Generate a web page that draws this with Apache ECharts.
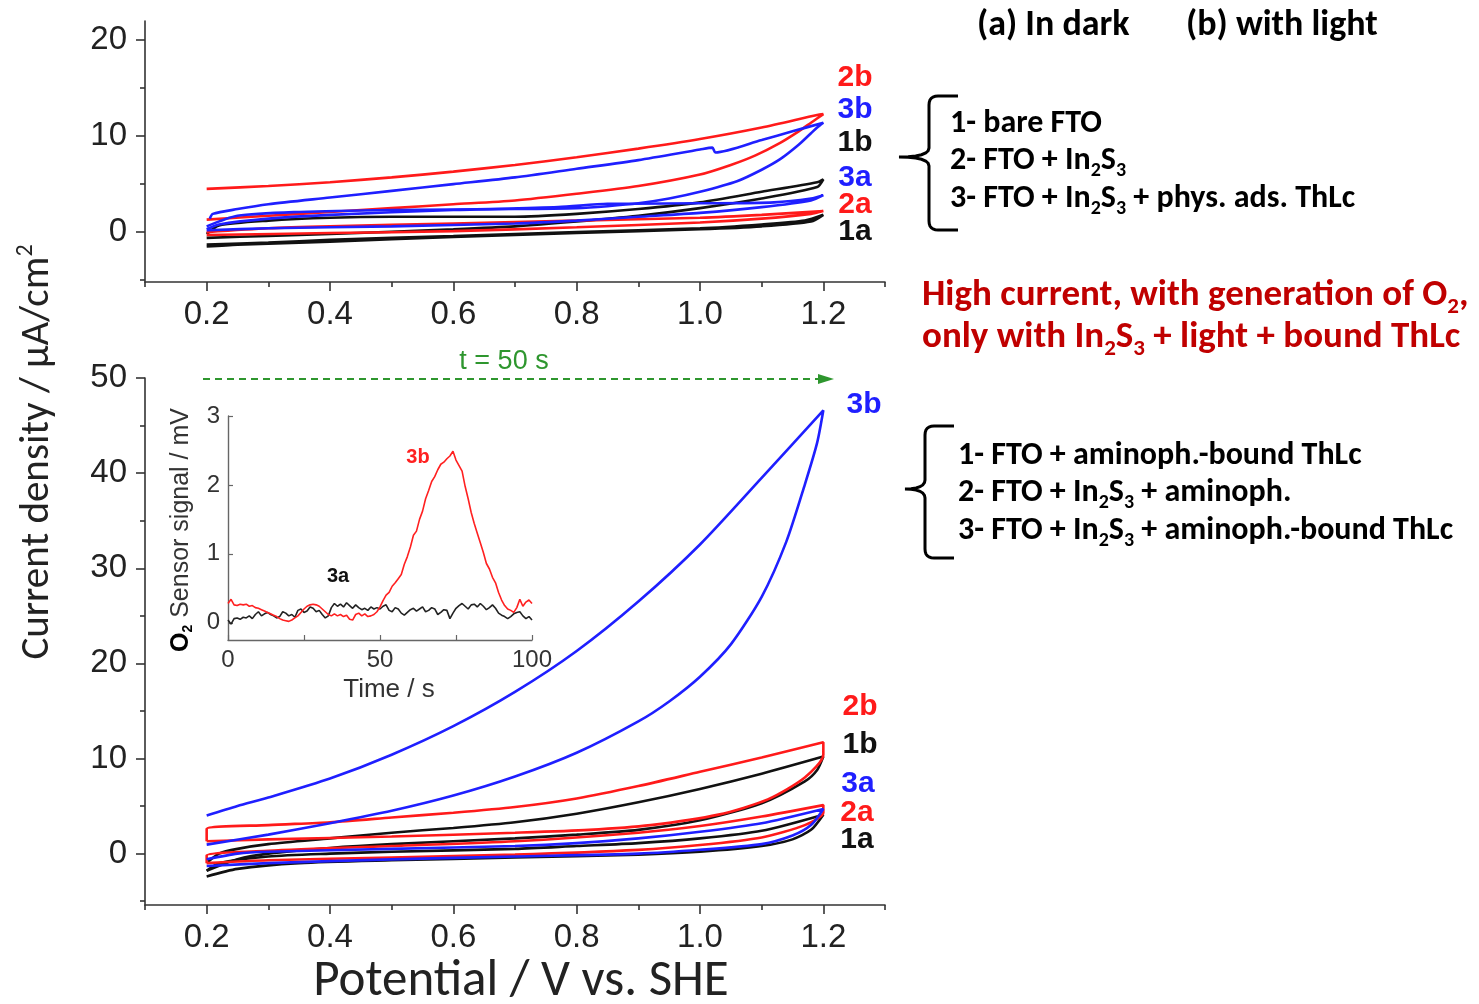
<!DOCTYPE html>
<html>
<head>
<meta charset="utf-8">
<script src="https://cdn.jsdelivr.net/npm/echarts@6/dist/echarts.min.js"></script>
<style>
  html, body { margin: 0; padding: 0; background: #fff; }
  #chart { width: 1479px; height: 1004px; }
</style>
</head>
<body>
<div id="chart"></div>
<script>
// ---- Tick values ----
const potentialMajor = [0.2, 0.4, 0.6, 0.8, 1.0, 1.2];
const potentialMinor = [0.1, 0.3, 0.5, 0.7, 0.9, 1.1, 1.3];
const topCurrentMajor = [0, 10, 20];
const topCurrentMinor = [-5, 5, 15];
const bottomCurrentMajor = [0, 10, 20, 30, 40, 50];
const bottomCurrentMinor = [-5, 5, 15, 25, 35, 45];
const insetTimeMajor = [0, 50, 100];
const insetTimeMinor = [25, 75];
const insetSignalMajor = [0, 1, 2, 3];

// ---- Cyclic voltammograms, FTO / In2S3 / physically adsorbed ThLc [V, uA/cm2] ----
const cvPhys1a = [[0.2,-1.3],[0.3,-1.1],[0.4,-0.8],[0.6,-0.4],[0.8,0.0],[1.0,0.4],[1.1,0.8],[1.17,1.2],[1.2,1.8],[1.18,1.1],[1.1,0.6],[1.0,0.3],[0.8,-0.1],[0.6,-0.5],[0.4,-1.0],[0.25,-1.3],[0.2,-1.5]];
const cvPhys2a = [[0.2,0.0],[0.3,0.4],[0.4,0.6],[0.6,0.9],[0.8,1.2],[1.0,1.5],[1.1,1.8],[1.2,2.2],[1.18,1.9],[1.1,1.4],[1.0,1.0],[0.8,0.5],[0.6,0.1],[0.4,-0.1],[0.2,-0.3]];
const cvPhys3a = [[0.2,0.3],[0.22,0.8],[0.3,1.4],[0.4,1.8],[0.6,2.3],[0.77,2.6],[0.85,2.95],[1.0,3.0],[1.12,3.1],[1.18,3.5],[1.2,3.85],[1.18,3.3],[1.1,2.6],[1.0,2.0],[0.9,1.6],[0.8,1.2],[0.7,0.9],[0.5,0.6],[0.3,0.4],[0.2,0.2]];
const cvPhys1b = [[0.2,-0.2],[0.22,0.7],[0.3,1.2],[0.4,1.5],[0.5,1.6],[0.6,1.6],[0.7,1.6],[0.8,1.9],[0.9,2.4],[1.0,3.1],[1.1,4.2],[1.19,5.2],[1.2,5.5],[1.19,4.7],[1.1,3.5],[1.0,2.5],[0.9,1.7],[0.8,1.1],[0.7,0.6],[0.6,0.3],[0.4,-0.2],[0.3,-0.4],[0.2,-0.6]];
const cvPhys2b = [[0.2,4.5],[0.3,4.8],[0.4,5.2],[0.5,5.7],[0.6,6.3],[0.7,7.0],[0.8,7.8],[0.9,8.7],[1.0,9.7],[1.1,10.9],[1.19,12.2],[1.2,12.3],[1.18,11.4],[1.16,10.5],[1.13,9.3],[1.09,8.0],[1.05,7.0],[1.0,6.0],[0.9,4.8],[0.8,4.0],[0.7,3.3],[0.6,2.9],[0.5,2.5],[0.4,2.1],[0.3,1.7],[0.2,1.3]];
const cvPhys3b = [[0.205,1.4],[0.21,1.9],[0.25,2.4],[0.3,2.9],[0.4,3.6],[0.5,4.3],[0.6,5.0],[0.7,5.7],[0.8,6.6],[0.9,7.5],[1.0,8.6],[1.02,8.8],[1.025,8.3],[1.1,9.6],[1.15,10.5],[1.2,11.4],[1.19,10.9],[1.18,10.3],[1.16,9.1],[1.13,7.6],[1.1,6.5],[1.06,5.3],[1.0,4.2],[0.95,3.5],[0.9,3.0],[0.85,2.7],[0.8,2.5],[0.7,2.4],[0.5,2.3],[0.35,2.1],[0.25,1.7],[0.2,0.6]];

// ---- Cyclic voltammograms, aminophenyl-bound ThLc series [V, uA/cm2] ----
const cvBound1a = [[0.2,-1.8],[0.22,-1.0],[0.3,-0.3],[0.4,0.0],[0.5,0.2],[0.7,0.5],[0.8,0.8],[0.9,1.1],[1.0,1.6],[1.1,2.4],[1.2,4.1],[1.18,2.5],[1.15,1.5],[1.1,0.8],[1.0,0.2],[0.9,-0.1],[0.7,-0.4],[0.5,-0.7],[0.35,-1.0],[0.25,-1.6],[0.2,-2.4]];
const cvBound2a = [[0.2,-1.0],[0.2,-0.2],[0.3,0.3],[0.5,0.8],[0.7,1.3],[0.9,2.2],[1.0,2.9],[1.1,3.9],[1.2,5.1],[1.2,4.3],[1.17,3.0],[1.1,1.7],[1.0,0.9],[0.9,0.4],[0.7,-0.1],[0.5,-0.4],[0.3,-0.7],[0.2,-1.0]];
const cvBound3a = [[0.2,-0.6],[0.25,0.0],[0.3,0.2],[0.5,0.5],[0.7,0.8],[0.8,1.1],[0.9,1.6],[1.0,2.3],[1.1,3.2],[1.2,4.7],[1.18,3.0],[1.15,1.9],[1.1,1.0],[1.0,0.4],[0.9,0.0],[0.7,-0.3],[0.5,-0.6],[0.3,-1.0],[0.2,-1.3]];
const cvBound1b = [[0.2,-1.0],[0.22,0.0],[0.25,0.5],[0.3,1.0],[0.4,1.6],[0.5,2.2],[0.6,2.7],[0.7,3.3],[0.8,4.2],[0.9,5.4],[1.0,6.8],[1.1,8.4],[1.2,10.2],[1.19,8.8],[1.17,7.6],[1.1,5.3],[1.0,3.5],[0.9,2.5],[0.8,2.0],[0.7,1.6],[0.5,1.0],[0.4,0.6],[0.3,0.0],[0.25,-0.6],[0.2,-1.8]];
const cvBound2b = [[0.2,1.3],[0.2,2.6],[0.3,3.0],[0.4,3.3],[0.5,3.8],[0.6,4.3],[0.7,4.9],[0.8,5.8],[0.9,7.1],[1.0,8.6],[1.1,10.1],[1.2,11.7],[1.2,10.4],[1.17,8.0],[1.11,5.7],[1.03,4.1],[0.92,3.0],[0.82,2.5],[0.7,2.2],[0.5,1.8],[0.3,1.5],[0.2,1.3]];
const cvBound3b = [[0.2,4.0],[0.25,5.0],[0.3,5.9],[0.4,7.9],[0.5,10.4],[0.6,13.4],[0.7,17.0],[0.8,21.3],[0.9,26.5],[1.0,32.5],[1.1,39.5],[1.2,46.6],[1.19,43.2],[1.17,38.8],[1.14,32.8],[1.1,27.0],[1.05,22.0],[1.0,18.6],[0.95,16.0],[0.9,13.9],[0.8,10.6],[0.7,8.1],[0.6,6.1],[0.5,4.5],[0.4,3.2],[0.3,2.0],[0.2,0.95]];

// ---- O2 sensor signal, one sample per second from t = 0 s [mV] ----
const o2Signal3b = [0.28,0.34,0.26,0.25,0.27,0.26,0.27,0.24,0.25,0.22,0.21,0.19,0.17,0.15,0.13,0.11,0.09,0.06,0.04,0.03,
  0.02,0.04,0.07,0.10,0.15,0.20,0.24,0.26,0.27,0.26,0.24,0.20,0.16,0.12,0.10,0.13,0.10,0.12,0.09,0.11,
  0.05,0.04,0.12,0.14,0.10,0.13,0.09,0.10,0.12,0.16,0.23,0.32,0.40,0.44,0.53,0.58,0.64,0.70,0.85,0.96,
  1.10,1.27,1.33,1.50,1.62,1.80,1.92,2.05,2.12,2.22,2.30,2.33,2.38,2.42,2.49,2.36,2.28,2.20,1.98,1.80,
  1.60,1.44,1.30,1.16,1.02,0.86,0.78,0.66,0.58,0.44,0.33,0.25,0.20,0.18,0.15,0.22,0.34,0.24,0.30,0.33,0.28];
const o2Signal3a = [0.04,-0.02,0.06,0.07,0.05,0.08,0.07,0.10,0.06,0.12,0.16,0.10,0.13,0.15,0.12,0.10,0.07,0.09,0.16,0.14,
  0.10,0.12,0.08,0.18,0.20,0.15,0.17,0.23,0.21,0.16,0.18,0.12,0.07,0.10,0.22,0.28,0.24,0.27,0.23,0.29,
  0.25,0.21,0.26,0.22,0.19,0.21,0.18,0.23,0.20,0.22,0.20,0.24,0.26,0.18,0.16,0.22,0.20,0.14,0.11,0.15,
  0.19,0.21,0.17,0.20,0.23,0.16,0.18,0.22,0.20,0.12,0.15,0.19,0.18,0.06,0.14,0.21,0.25,0.28,0.24,0.20,
  0.26,0.27,0.23,0.28,0.24,0.19,0.22,0.26,0.21,0.14,0.11,0.09,0.06,0.09,0.13,0.15,0.16,0.10,0.06,0.09,0.04];

const RED = '#ff1a1a', BLUE = '#1f1fff', BLACK = '#111111', DARKRED = '#c00000', GREEN = '#2e962e';
const TICK_FONT = '"Liberation Sans", Arial, sans-serif';
const TEXT_FONT = 'Carlito, Lato, "Open Sans", sans-serif';

function majorAxis(gridIndex, min, max, major, position) {
  return {
    type: 'value', gridIndex, min, max, position,
    axisLine: { show: true, onZero: false, lineStyle: { color: '#333', width: 1.6 } },
    axisTick: { show: true, customValues: major, length: 9, lineStyle: { color: '#333', width: 1.6 } },
    axisLabel: { show: true, customValues: major, color: '#222', fontFamily: TICK_FONT, fontSize: 33,
      margin: position === 'bottom' ? 16 : 18,
      formatter: v => (position === 'bottom' ? v.toFixed(1) : String(v)) },
    splitLine: { show: false }
  };
}
function minorAxis(gridIndex, min, max, minor, position) {
  return {
    type: 'value', gridIndex, min, max, position,
    axisLine: { show: false, onZero: false },
    axisTick: { show: true, customValues: minor, length: 5, lineStyle: { color: '#333', width: 1.6 } },
    axisLabel: { show: false },
    splitLine: { show: false }
  };
}

function cv(data, color, x, y) {
  return {
    type: 'line', data, xAxisIndex: x, yAxisIndex: y,
    showSymbol: false, smooth: 0.25, silent: true,
    lineStyle: { color, width: 2.6 }
  };
}
function o2(values, color) {
  return {
    type: 'line', data: values.map((v, i) => [i, v]), xAxisIndex: 4, yAxisIndex: 4,
    showSymbol: false, silent: true, lineStyle: { color, width: 1.6 }
  };
}

function label(text, x, y, color, size) {
  return { type: 'text', x, y, silent: true,
    style: { text, fill: color, font: 'bold ' + (size || 30) + 'px ' + TICK_FONT,
      align: 'center', verticalAlign: 'middle', textAlign: 'center', textVerticalAlign: 'middle' } };
}
function richLine(text, x, y, color, size) {
  return { type: 'text', x, y, silent: true,
    style: {
      text, fill: color, fontFamily: TEXT_FONT, fontWeight: 'bold', fontSize: size, lineHeight: size + 8,
      align: 'left', verticalAlign: 'middle', textAlign: 'left', textVerticalAlign: 'middle',
      rich: {
        s: { fontFamily: TEXT_FONT, fontWeight: 'bold', fontSize: Math.round(size * 0.62), lineHeight: Math.round(size * 0.62), verticalAlign: 'bottom', fill: color }
      }
    } };
}
// Curly brace opening to the right, drawn as a polyline with rounded corners
function brace(xEnd, xSpine, xTip, yTop, yMid, yBot) {
  const r = 9, pts = [];
  const quad = (p0, c, p1) => {
    for (let i = 1; i <= 6; i++) {
      const t = i / 6, u = 1 - t;
      pts.push([u * u * p0[0] + 2 * u * t * c[0] + t * t * p1[0], u * u * p0[1] + 2 * u * t * c[1] + t * t * p1[1]]);
    }
  };
  pts.push([xEnd, yTop], [xSpine + r, yTop]);
  quad([xSpine + r, yTop], [xSpine, yTop], [xSpine, yTop + r]);
  pts.push([xSpine, yMid - r]);
  quad([xSpine, yMid - r], [xSpine, yMid], [xTip, yMid]);
  quad([xTip, yMid], [xSpine, yMid], [xSpine, yMid + r]);
  pts.push([xSpine, yBot - r]);
  quad([xSpine, yBot - r], [xSpine, yBot], [xSpine + r, yBot]);
  pts.push([xEnd, yBot]);
  return { type: 'polyline', silent: true, shape: { points: pts }, style: { stroke: '#000', lineWidth: 3, fill: null } };
}

const chart = echarts.init(document.getElementById('chart'), null, { renderer: 'canvas' });

const option = {
  backgroundColor: '#ffffff',
  animation: false,
  grid: [
    { left: 145, top: 21, width: 740, height: 261 },
    { left: 145, top: 378, width: 740, height: 527 },
    { left: 228, top: 416, width: 304, height: 224 }
  ],
  xAxis: [
    majorAxis(0, 0.1, 1.3, potentialMajor, 'bottom'),
    minorAxis(0, 0.1, 1.3, potentialMinor, 'bottom'),
    majorAxis(1, 0.1, 1.3, potentialMajor, 'bottom'),
    minorAxis(1, 0.1, 1.3, potentialMinor, 'bottom'),
    {
      type: 'value', gridIndex: 2, min: 0, max: 100, position: 'bottom',
      axisLine: { show: true, onZero: false, lineStyle: { color: '#666', width: 1.4 } },
      axisTick: { show: true, inside: true, customValues: insetTimeMajor.concat(insetTimeMinor), length: 5, lineStyle: { color: '#666', width: 1.2 } },
      axisLabel: { customValues: insetTimeMajor, color: '#333', fontFamily: TICK_FONT, fontSize: 24, margin: 8 },
      splitLine: { show: false }
    }
  ],
  yAxis: [
    majorAxis(0, -5.2, 22, topCurrentMajor, 'left'),
    minorAxis(0, -5.2, 22, topCurrentMinor, 'left'),
    majorAxis(1, -5.4, 50, bottomCurrentMajor, 'left'),
    minorAxis(1, -5.4, 50, bottomCurrentMinor, 'left'),
    {
      type: 'value', gridIndex: 2, min: -0.25, max: 3, position: 'left',
      axisLine: { show: true, onZero: false, lineStyle: { color: '#666', width: 1.4 } },
      axisTick: { show: true, inside: true, customValues: insetSignalMajor, length: 5, lineStyle: { color: '#666', width: 1.2 } },
      axisLabel: { customValues: insetSignalMajor, color: '#333', fontFamily: TICK_FONT, fontSize: 24, margin: 8 },
      splitLine: { show: false }
    }
  ],
  series: [
    cv(cvPhys1a, BLACK, 0, 0), cv(cvPhys1b, BLACK, 0, 0),
    cv(cvPhys2a, RED, 0, 0), cv(cvPhys2b, RED, 0, 0),
    cv(cvPhys3a, BLUE, 0, 0), cv(cvPhys3b, BLUE, 0, 0),
    cv(cvBound1a, BLACK, 2, 2), cv(cvBound1b, BLACK, 2, 2),
    cv(cvBound2a, RED, 2, 2), cv(cvBound2b, RED, 2, 2),
    cv(cvBound3a, BLUE, 2, 2), cv(cvBound3b, BLUE, 2, 2),
    o2(o2Signal3a, '#222222'), o2(o2Signal3b, '#ff2020')
  ],
  graphic: [
    // axis titles
    { type: 'text', x: 38, y: 452, rotation: Math.PI / 2, silent: true,
      style: { text: 'Current density / μA/cm{sup|2}', fill: '#222', fontFamily: TEXT_FONT, fontSize: 41, lineHeight: 48,
        align: 'center', verticalAlign: 'middle', textAlign: 'center', textVerticalAlign: 'middle',
        rich: { sup: { fontSize: 24, lineHeight: 24, verticalAlign: 'top', fill: '#222', fontFamily: TEXT_FONT } } } },
    { type: 'text', x: 521, y: 982, silent: true,
      style: { text: 'Potential / V vs. SHE', fill: '#222', fontFamily: TEXT_FONT, fontSize: 51,
        align: 'center', verticalAlign: 'middle', textAlign: 'center', textVerticalAlign: 'middle' } },
    { type: 'text', x: 181, y: 530, rotation: Math.PI / 2, silent: true,
      style: { text: '{o|O}{os|2}{t| Sensor signal / mV}', fontFamily: TICK_FONT, fontSize: 25, lineHeight: 28,
        align: 'center', verticalAlign: 'middle', textAlign: 'center', textVerticalAlign: 'middle',
        rich: {
          o: { fontWeight: 'bold', fill: '#000', fontSize: 25, fontFamily: TICK_FONT },
          os: { fontWeight: 'bold', fill: '#000', fontSize: 14, lineHeight: 14, verticalAlign: 'bottom', fontFamily: TICK_FONT },
          t: { fill: '#333', fontSize: 25, fontFamily: TICK_FONT }
        } } },
    { type: 'text', x: 389, y: 690, silent: true,
      style: { text: 'Time / s', fill: '#333', font: '26px ' + TICK_FONT,
        align: 'center', verticalAlign: 'middle', textAlign: 'center', textVerticalAlign: 'middle' } },

    // light-exposure arrow (t = 50 s)
    { type: 'line', silent: true, shape: { x1: 203, y1: 379, x2: 822, y2: 379 },
      style: { stroke: GREEN, lineWidth: 2, lineDash: [7, 5] } },
    { type: 'polygon', silent: true, shape: { points: [[818, 374], [834, 379], [818, 384]] }, style: { fill: GREEN } },
    { type: 'text', x: 504, y: 362, silent: true,
      style: { text: 't = 50 s', fill: GREEN, font: '27px ' + TICK_FONT,
        align: 'center', verticalAlign: 'middle', textAlign: 'center', textVerticalAlign: 'middle' } },

    // curve labels, upper panel
    label('2b', 855, 78, RED), label('3b', 855, 110, BLUE), label('1b', 855, 143, BLACK),
    label('3a', 855, 178, BLUE), label('2a', 855, 205, RED), label('1a', 855, 232, BLACK),
    // curve labels, lower panel
    label('3b', 864, 405, BLUE), label('2b', 860, 707, RED), label('1b', 860, 745, BLACK),
    label('3a', 858, 784, BLUE), label('2a', 857, 813, RED), label('1a', 857, 840, BLACK),
    // inset labels
    label('3b', 418, 457, '#ff2020', 20), label('3a', 338, 576, '#111', 20),

    // legend texts
    richLine('(a) In dark', 977, 26, '#000', 36),
    richLine('(b) with light', 1186, 26, '#000', 36),
    brace(958, 929, 899, 96, 157, 230),
    richLine('1- bare FTO', 950, 124, '#000', 32),
    richLine('2- FTO + In{s|2}S{s|3}', 950, 161, '#000', 32),
    richLine('3- FTO + In{s|2}S{s|3} + phys. ads. ThLc', 950, 199, '#000', 32),
    richLine('High current, with generation of O{s|2},', 922, 296, DARKRED, 37),
    richLine('only with In{s|2}S{s|3} + light + bound ThLc', 922, 338, DARKRED, 37),
    brace(954, 925, 905, 426, 489, 558),
    richLine('1- FTO + aminoph.-bound ThLc', 958, 456, '#000', 32),
    richLine('2- FTO + In{s|2}S{s|3} + aminoph.', 958, 493, '#000', 32),
    richLine('3- FTO + In{s|2}S{s|3} + aminoph.-bound ThLc', 958, 531, '#000', 32)
  ]
};

chart.setOption(option);
</script>
</body>
</html>
